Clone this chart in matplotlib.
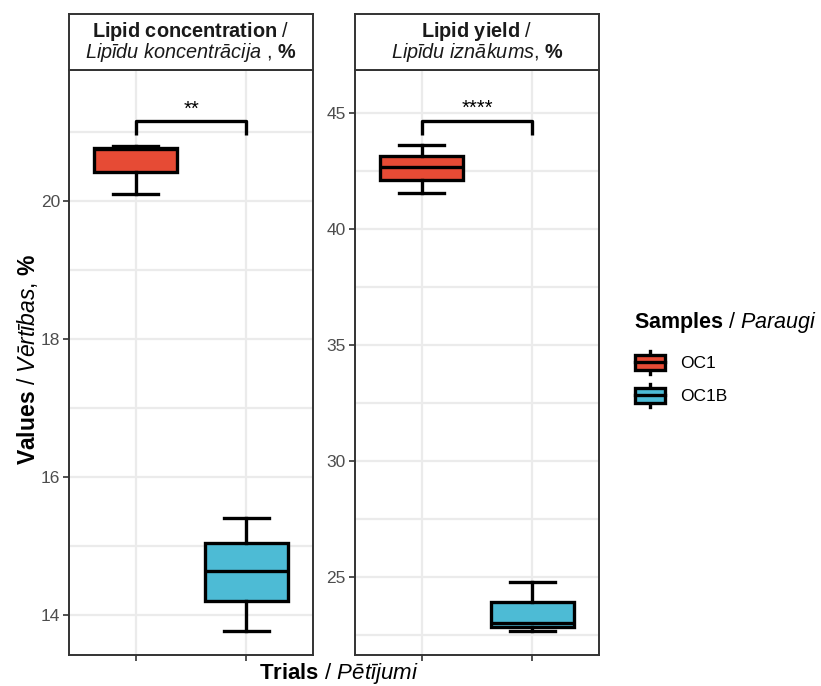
import numpy as np
import matplotlib
matplotlib.use('Agg')
import matplotlib.pyplot as plt
from matplotlib.patches import Patch, Rectangle
from matplotlib.lines import Line2D
from matplotlib.legend_handler import HandlerBase
from matplotlib.ticker import MultipleLocator

plt.rcParams['font.family'] = ['Liberation Sans', 'DejaVu Sans']
plt.rcParams['mathtext.fontset'] = 'custom'
plt.rcParams['mathtext.rm'] = 'Liberation Sans'
plt.rcParams['mathtext.it'] = 'Liberation Sans:italic'
plt.rcParams['mathtext.bf'] = 'Liberation Sans:bold'

#data: box statistics
samples = ['OC1', 'OC1B']
colors = ['#E64B35', '#4DBBD5']

conc_whislo = [20.10, 13.77]
conc_q1 = [20.42, 14.21]
conc_med = [20.75, 14.64]
conc_q3 = [20.77, 15.04]
conc_whishi = [20.80, 15.41]

yield_whislo = [41.54, 22.69]
yield_q1 = [42.11, 22.86]
yield_med = [42.69, 23.02]
yield_q3 = [43.16, 23.91]
yield_whishi = [43.62, 24.80]

#significance brackets (top, bottom of bracket legs) and labels
conc_bracket = [21.16, 20.96]
yield_bracket = [44.66, 44.05]
conc_sig = '**'
yield_sig = '****'

strip_titles = [r'$\mathbf{Lipid\ concentration}$ /' + '\n' + r'$\mathit{Lipīdu\ koncentrācija}$ , $\mathbf{\%}$',
                r'$\mathbf{Lipid\ yield}$ /' + '\n' + r'$\mathit{Lipīdu\ iznākums}$, $\mathbf{\%}$']

W, H = 821, 686
fig = plt.figure(figsize=(W/100, H/100), dpi=100)

def px_axes(x0, y0, x1, y1):
    return fig.add_axes([x0/W, 1-y1/H, (x1-x0)/W, (y1-y0)/H])

border = '#333333'
lw_box = 2.4

def make_panel(x0, x1, stats, ylim, major, minor, bracket, sig, title):
    ax = px_axes(x0, 70, x1, 655)
    bxstats = []
    for i in range(2):
        bxstats.append(dict(whislo=stats[0][i], q1=stats[1][i], med=stats[2][i],
                            q3=stats[3][i], whishi=stats[4][i], fliers=[]))
    bp = ax.bxp(bxstats, positions=[1, 2], widths=0.75, capwidths=0.4,
                patch_artist=True, showfliers=False,
                boxprops=dict(linewidth=lw_box, edgecolor='black'),
                medianprops=dict(color='black', linewidth=lw_box, solid_capstyle='butt'),
                whiskerprops=dict(color='black', linewidth=lw_box),
                capprops=dict(color='black', linewidth=lw_box))
    for patch, c in zip(bp['boxes'], colors):
        patch.set_facecolor(c)
    for art in bp['boxes'] + bp['medians'] + bp['whiskers'] + bp['caps']:
        art.set_zorder(3)
    ax.set_xlim(0.4, 2.6)
    ax.set_ylim(*ylim)
    ax.yaxis.set_major_locator(MultipleLocator(major))
    ax.yaxis.set_minor_locator(MultipleLocator(minor))
    ax.set_xticks([1, 2])
    ax.set_xticklabels([])
    ax.grid(True, which='major', color='#EBEBEB', linewidth=1.6, zorder=0)
    ax.grid(True, which='minor', axis='y', color='#EBEBEB', linewidth=1.6, zorder=0)
    ax.set_axisbelow(True)
    ax.tick_params(axis='both', which='major', length=4, width=1.2, color=border,
                   labelsize=12.5, labelcolor='#4D4D4D', pad=2.5)
    ax.tick_params(axis='y', which='minor', length=0)
    for s in ax.spines.values():
        s.set_color(border)
        s.set_linewidth(1.4)
    #bracket
    ax.plot([1, 1, 2, 2], [bracket[1], bracket[0], bracket[0], bracket[1]],
            color='black', linewidth=lw_box, solid_capstyle='butt', zorder=4)
    ax.annotate(sig, (1.5, bracket[0]), xytext=(0, 4.7), textcoords='offset points',
                ha='center', va='baseline', fontsize=14.5)
    #strip
    st = px_axes(x0, 14, x1, 70)
    st.set_xticks([])
    st.set_yticks([])
    for s in st.spines.values():
        s.set_color(border)
        s.set_linewidth(1.4)
    st.text(0.5, 0.5, title, ha='center', va='center', fontsize=14.3,
            color='#1A1A1A', transform=st.transAxes, linespacing=0.9)
    return ax

ax1 = make_panel(69, 313, [conc_whislo, conc_q1, conc_med, conc_q3, conc_whishi],
                 (13.42, 21.9), 2, 1, conc_bracket, conc_sig, strip_titles[0])
ax2 = make_panel(355, 599, [yield_whislo, yield_q1, yield_med, yield_q3, yield_whishi],
                 (21.64, 46.85), 5, 2.5, yield_bracket, yield_sig, strip_titles[1])

fig.text(27/W, 1-359/H, r'$\mathbf{Values}$ / $\mathit{Vērtības}$, $\mathbf{\%}$',
         rotation=90, ha='center', va='center', fontsize=16.5)
fig.text(339/W, 1-674/H, r'$\mathbf{Trials}$ / $\mathit{Pētījumi}$',
         ha='center', va='center', fontsize=16)

#legend with box glyphs
class BoxHandler(HandlerBase):
    def create_artists(self, legend, orig_handle, xdescent, ydescent, width, height, fontsize, trans):
        fc = orig_handle.get_facecolor()
        h = height * 1.2
        y0 = -ydescent + (height - h) / 2
        bh = h * 0.66
        by = y0 + (h - bh) / 2
        arts = [
            Line2D([width/2, width/2], [y0, by], color='black', lw=lw_box, transform=trans),
            Line2D([width/2, width/2], [by+bh, y0+h], color='black', lw=lw_box, transform=trans),
            Rectangle((0, by), width, bh, facecolor=fc, edgecolor='black', lw=lw_box, transform=trans),
            Line2D([0, width], [by+bh/2, by+bh/2], color='black', lw=lw_box, transform=trans),
        ]
        return arts

fig.text(634/W, 1-322/H, r'$\mathbf{Samples}$ / $\mathit{Paraugi}$',
         ha='left', va='center', fontsize=15.5)
handles = [Patch(facecolor=c) for c in colors]
leg = fig.legend(handles, samples, handler_map={Patch: BoxHandler()},
                 loc='upper left', bbox_to_anchor=(635/W, 1-353/H), frameon=False,
                 borderpad=0, borderaxespad=0,
                 fontsize=12.5, handlelength=1.72, handleheight=1.3, handletextpad=0.86,
                 labelspacing=0.8)

plt.savefig('out.png', dpi=100)
